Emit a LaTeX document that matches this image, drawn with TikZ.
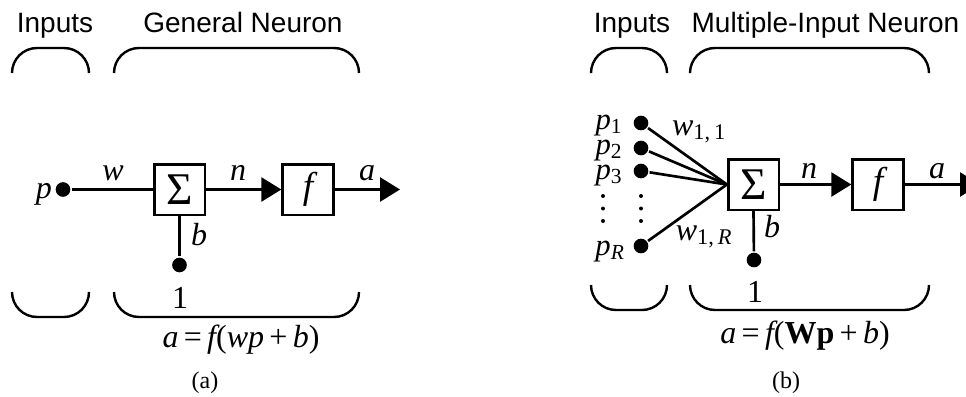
\documentclass[tikz,border=0pt]{standalone}
\usepackage{fontspec}
\setmainfont{Liberation Serif}
\newfontfamily\hdfont{Liberation Sans}
\usetikzlibrary{arrows.meta}
\begin{document}
\begin{tikzpicture}[x=0.75pt,y=-0.75pt,
  line width=2pt,
  hd/.style={font=\hdfont\fontsize{21}{25}\selectfont, anchor=base, inner sep=0},
  lbl/.style={font=\fontsize{24}{28}\selectfont\itshape, anchor=base, inner sep=0},
  plbl/.style={font=\fontsize{23}{26}\selectfont\itshape, anchor=base, inner sep=0, text depth=0pt},
  num/.style={font=\fontsize{24}{28}\selectfont, anchor=base, inner sep=0},
  eq/.style={font=\fontsize{24}{28}\selectfont, anchor=base, inner sep=0},
  captxt/.style={font=\fontsize{18}{21}\selectfont, anchor=base, inner sep=0},
  box/.style={draw, line width=2pt, minimum size=38pt, inner sep=0, font=\fontsize{28}{32}\selectfont\itshape},
  sigbox/.style={draw, line width=2pt, minimum size=38pt, inner sep=0, font=\fontsize{34}{38}\selectfont},
  dot/.style={circle, fill, inner sep=0, minimum size=11pt},
  sdot/.style={circle, fill, inner sep=0, minimum size=3pt},
  brace/.style={line width=1.8pt, rounded corners=18.75pt},
  arr/.style={-{Triangle[length=15pt,width=18pt]}},
]
\useasboundingbox (0,0) rectangle (966,396);

% ---------------- (a) ----------------
\node[hd] (inA) at (55,32) {Inputs};
\node[hd] (genA) at (243,32) {General Neuron};
\draw[brace] (12,73) -- (12,48) -- (89,48) -- (89,73);
\draw[brace] (114,73) -- (114,48) -- (359,48) -- (359,73);
\draw[brace] (12,292) -- (12,317) -- (89,317) -- (89,292);
\draw[brace] (114,292) -- (114,317) -- (359,317) -- (359,292);

\node[dot] (pA) at (63,189.5) {};
\node[sigbox] (sumA) at (179.5,189.5) {Σ};
\node[box] (fA) at (308,189.5) {f};
\node[dot] (bA) at (179.5,265) {};
\coordinate (outA) at (400,189.5);

\draw (pA) -- (sumA);
\draw[arr] (sumA) -- (fA);
\draw[arr] (fA) -- (outA);
\draw (sumA) -- (bA);

\node[lbl] (pAl) at (44,198) {p};
\node[lbl] (wAl) at (113,180) {w};
\node[lbl] (nAl) at (238,180) {n};
\node[lbl] (aAl) at (367,180) {a};
\node[lbl] (bAl) at (199,245) {b};
\node[num] (oneA) at (180,308) {1};
\node[eq] (eqA) at (241,347) {\itshape a\,\upshape =\,\itshape f\upshape(\itshape wp\upshape\,+\,\itshape b\upshape)};
\node[captxt] (capA) at (205,388) {(a)};

% ---------------- (b) ----------------
\node[hd] (inB) at (632,32) {Inputs};
\node[hd] (genB) at (825.5,32) {Multiple-Input Neuron};
\draw[brace] (591,72) -- (591,48) -- (667,48) -- (667,72);
\draw[brace] (690,72) -- (690,48) -- (929,48) -- (929,72);
\draw[brace] (591,285) -- (591,310) -- (667,310) -- (667,285);
\draw[brace] (690,285) -- (690,310) -- (929,310) -- (929,285);

\node[dot] (p1) at (641,123) {};
\node[dot] (p2) at (641,148) {};
\node[dot] (p3) at (641,171) {};
\node[dot] (pR) at (641,246) {};
\node[sigbox] (sumB) at (753.5,184.5) {Σ};
\node[box] (fB) at (878,184.5) {f};
\node[dot] (bB) at (754,260) {};
\coordinate (outB) at (980,184.5);

\draw (p1) -- (sumB.west);
\draw (p2) -- (sumB.west);
\draw (p3) -- (sumB.west);
\draw (pR) -- (sumB.west);
\draw[arr] (sumB) -- (fB);
\draw[arr] (fB) -- (outB);
\draw (sumB.south) -- (bB);

\foreach \yy in {196,208.5,221} {
  \node[sdot] at (603,\yy) {};
  \node[sdot] at (641,\yy) {};
}

\node[plbl] (p1l) at (609,129) {p\upshape\textsubscript{1}};
\node[plbl] (p2l) at (609,154) {p\upshape\textsubscript{2}};
\node[plbl] (p3l) at (609,179) {p\upshape\textsubscript{3}};
\node[plbl] (pRl) at (610,255) {p\textsubscript{R}};
\node[lbl] (w11) at (699,135) {w\upshape\textsubscript{1,\,1}};
\node[lbl] (w1R) at (704,240) {w\textsubscript{\upshape 1,\,\itshape R}};
\node[lbl] (nBl) at (809,178) {n};
\node[lbl] (aBl) at (937,178) {a};
\node[lbl] (bBl) at (772,237) {b};
\node[num] (oneB) at (755,302) {1};
\node[eq] (eqB) at (805,343) {\itshape a\,\upshape =\,\itshape f\upshape(\bfseries Wp\mdseries\,+\,\itshape b\upshape)};
\node[captxt] (capB) at (786,388) {(b)};
\end{tikzpicture}
\end{document}
